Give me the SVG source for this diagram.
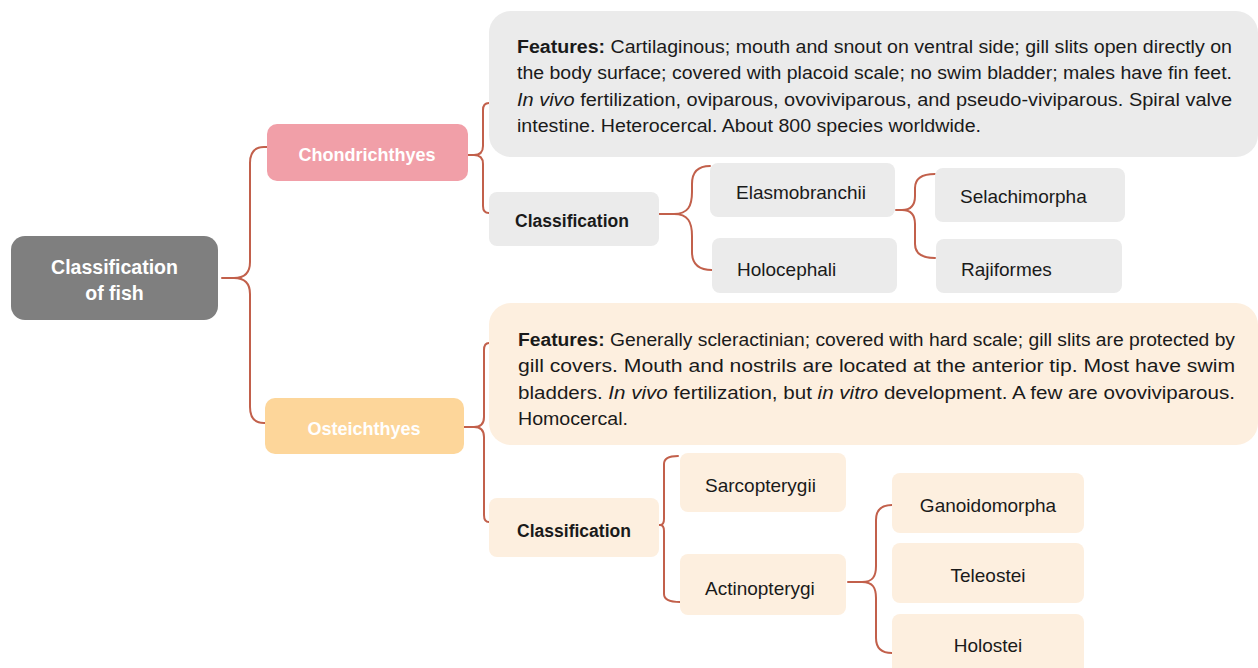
<svg xmlns="http://www.w3.org/2000/svg" width="1258" height="668" viewBox="0 0 1258 668">
<style>
  .lbl { font-family: "Liberation Sans", Arial, sans-serif; font-size: 19px; fill: #1a1a1a; }
  .cls { font-family: "Liberation Sans", Arial, sans-serif; font-size: 17.5px; font-weight: bold; fill: #1a1a1a; text-anchor: middle; }
  .wt { font-family: "Liberation Sans", Arial, sans-serif; font-weight: bold; fill: #ffffff; text-anchor: middle; }
  .para { font-family: "Liberation Sans", Arial, sans-serif; font-size: 17.5px; fill: #1a1a1a; }
  .gray { fill: #EBEBEB; }
  .peach { fill: #FDEFDF; }
  .brace { fill: none; stroke: #C2604B; stroke-width: 2; stroke-linecap: round; stroke-linejoin: round; }
</style>

<g id="connectors">
  <!-- root brace -->
  <path class="brace" d="M222,278 H234 Q250,278 250,262 V163 Q250,147 264,147 H267 M234,278 Q250,278 250,294 V407 Q250,423 264,423 H265"/>
  <!-- Chondrichthyes brace -->
  <path class="brace" d="M468,155 H474 Q483,155 483,146 V110 Q483,103 489,103 M474,155 Q483,155 483,164 V206 Q483,213 489,213"/>
  <!-- Osteichthyes brace -->
  <path class="brace" d="M464,427 H474 Q484,427 484,417 V350 Q484,343 489,343 M474,427 Q484,427 484,437 V515 Q484,522 489,522"/>
  <!-- Classification 1 brace -->
  <path class="brace" d="M659,214 H674 C688,214 692,206 692,192 V184 C692,172 698,166 710,166 M674,214 C688,214 692,222 692,236 V252 C692,264 698,270 712,270"/>
  <!-- Elasmobranchii brace -->
  <path class="brace" d="M896,210 H902 C912,210 915,204 915,196 V188 C915,179 922,174 935,174 M902,210 C912,210 915,216 915,224 V244 C915,253 922,258 935,258"/>
  <!-- Classification 2 brace -->
  <path class="brace" d="M659,525 H660 Q664,525 664,519 V464 Q664,456 678,456 M660,525 Q664,525 664,531 V594 Q664,602 680,602"/>
  <!-- Actinopterygi brace -->
  <path class="brace" d="M848,582 H862 C873,582 876,576 876,566 V520 C876,510 881,505 892,505 M862,582 C873,582 876,588 876,598 V638 C876,648 881,653 892,653"/>
</g>

<g id="root">
  <rect x="11" y="236" width="207" height="84" rx="14" fill="#7F7F7F"/>
  <text class="wt" x="114.5" y="274" font-size="19.5">Classification</text>
  <text class="wt" x="114.5" y="300" font-size="19.5">of fish</text>
</g>

<g id="chondrichthyes">
  <rect x="267" y="124" width="201" height="57" rx="10" fill="#F19FA8"/>
  <text class="wt" x="367" y="161" font-size="18">Chondrichthyes</text>
</g>

<g id="osteichthyes">
  <rect x="265" y="398" width="199" height="56" rx="10" fill="#FDD69A"/>
  <text class="wt" x="364" y="435" font-size="18">Osteichthyes</text>
</g>

<g id="features-chondrichthyes">
  <rect class="gray" x="489" y="11" width="769" height="146" rx="22"/>
  <text class="para" x="517" y="53" textLength="715" lengthAdjust="spacingAndGlyphs"><tspan font-weight="bold">Features:</tspan> Cartilaginous; mouth and snout on ventral side; gill slits open directly on</text>
  <text class="para" x="517" y="79" textLength="715" lengthAdjust="spacingAndGlyphs">the body surface; covered with placoid scale; no swim bladder; males have fin feet.</text>
  <text class="para" x="517" y="106" textLength="715" lengthAdjust="spacingAndGlyphs"><tspan font-style="italic">In vivo</tspan> fertilization, oviparous, ovoviviparous, and pseudo-viviparous. Spiral valve</text>
  <text class="para" x="517" y="132" textLength="464" lengthAdjust="spacingAndGlyphs">intestine. Heterocercal. About 800 species worldwide.</text>
</g>

<g id="classification-1">
  <rect class="gray" x="489" y="192" width="170" height="54" rx="8"/>
  <text class="cls" x="572" y="227">Classification</text>
</g>

<g id="elasmobranchii">
  <rect class="gray" x="710" y="163" width="185" height="54" rx="8"/>
  <text class="lbl" x="736" y="199">Elasmobranchii</text>
</g>

<g id="holocephali">
  <rect class="gray" x="712" y="238" width="185" height="55" rx="8"/>
  <text class="lbl" x="737" y="276">Holocephali</text>
</g>

<g id="selachimorpha">
  <rect class="gray" x="935" y="168" width="190" height="54" rx="8"/>
  <text class="lbl" x="960" y="203">Selachimorpha</text>
</g>

<g id="rajiformes">
  <rect class="gray" x="936" y="239" width="186" height="54" rx="8"/>
  <text class="lbl" x="961" y="276">Rajiformes</text>
</g>

<g id="features-osteichthyes">
  <rect class="peach" x="489" y="303" width="769" height="142" rx="22"/>
  <text class="para" x="518" y="346" textLength="717" lengthAdjust="spacingAndGlyphs"><tspan font-weight="bold">Features:</tspan> Generally scleractinian; covered with hard scale; gill slits are protected by</text>
  <text class="para" x="518" y="372" textLength="717" lengthAdjust="spacingAndGlyphs">gill covers. Mouth and nostrils are located at the anterior tip. Most have swim</text>
  <text class="para" x="518" y="399" textLength="717" lengthAdjust="spacingAndGlyphs">bladders. <tspan font-style="italic">In vivo</tspan> fertilization, but <tspan font-style="italic">in vitro</tspan> development. A few are ovoviviparous.</text>
  <text class="para" x="518" y="425" textLength="110" lengthAdjust="spacingAndGlyphs">Homocercal.</text>
</g>

<g id="classification-2">
  <rect class="peach" x="489" y="498" width="170" height="59" rx="8"/>
  <text class="cls" x="574" y="537">Classification</text>
</g>

<g id="sarcopterygii">
  <rect class="peach" x="680" y="453" width="166" height="59" rx="8"/>
  <text class="lbl" x="705" y="492">Sarcopterygii</text>
</g>

<g id="actinopterygi">
  <rect class="peach" x="680" y="554" width="166" height="61" rx="8"/>
  <text class="lbl" x="705" y="595">Actinopterygi</text>
</g>

<g id="ganoidomorpha">
  <rect class="peach" x="892" y="473" width="192" height="60" rx="8"/>
  <text class="lbl" x="988" y="512" style="text-anchor: middle">Ganoidomorpha</text>
</g>

<g id="teleostei">
  <rect class="peach" x="892" y="543" width="192" height="60" rx="8"/>
  <text class="lbl" x="988" y="582" style="text-anchor: middle">Teleostei</text>
</g>

<g id="holostei">
  <rect class="peach" x="892" y="614" width="192" height="62" rx="8"/>
  <text class="lbl" x="988" y="652" style="text-anchor: middle">Holostei</text>
</g>
</svg>
